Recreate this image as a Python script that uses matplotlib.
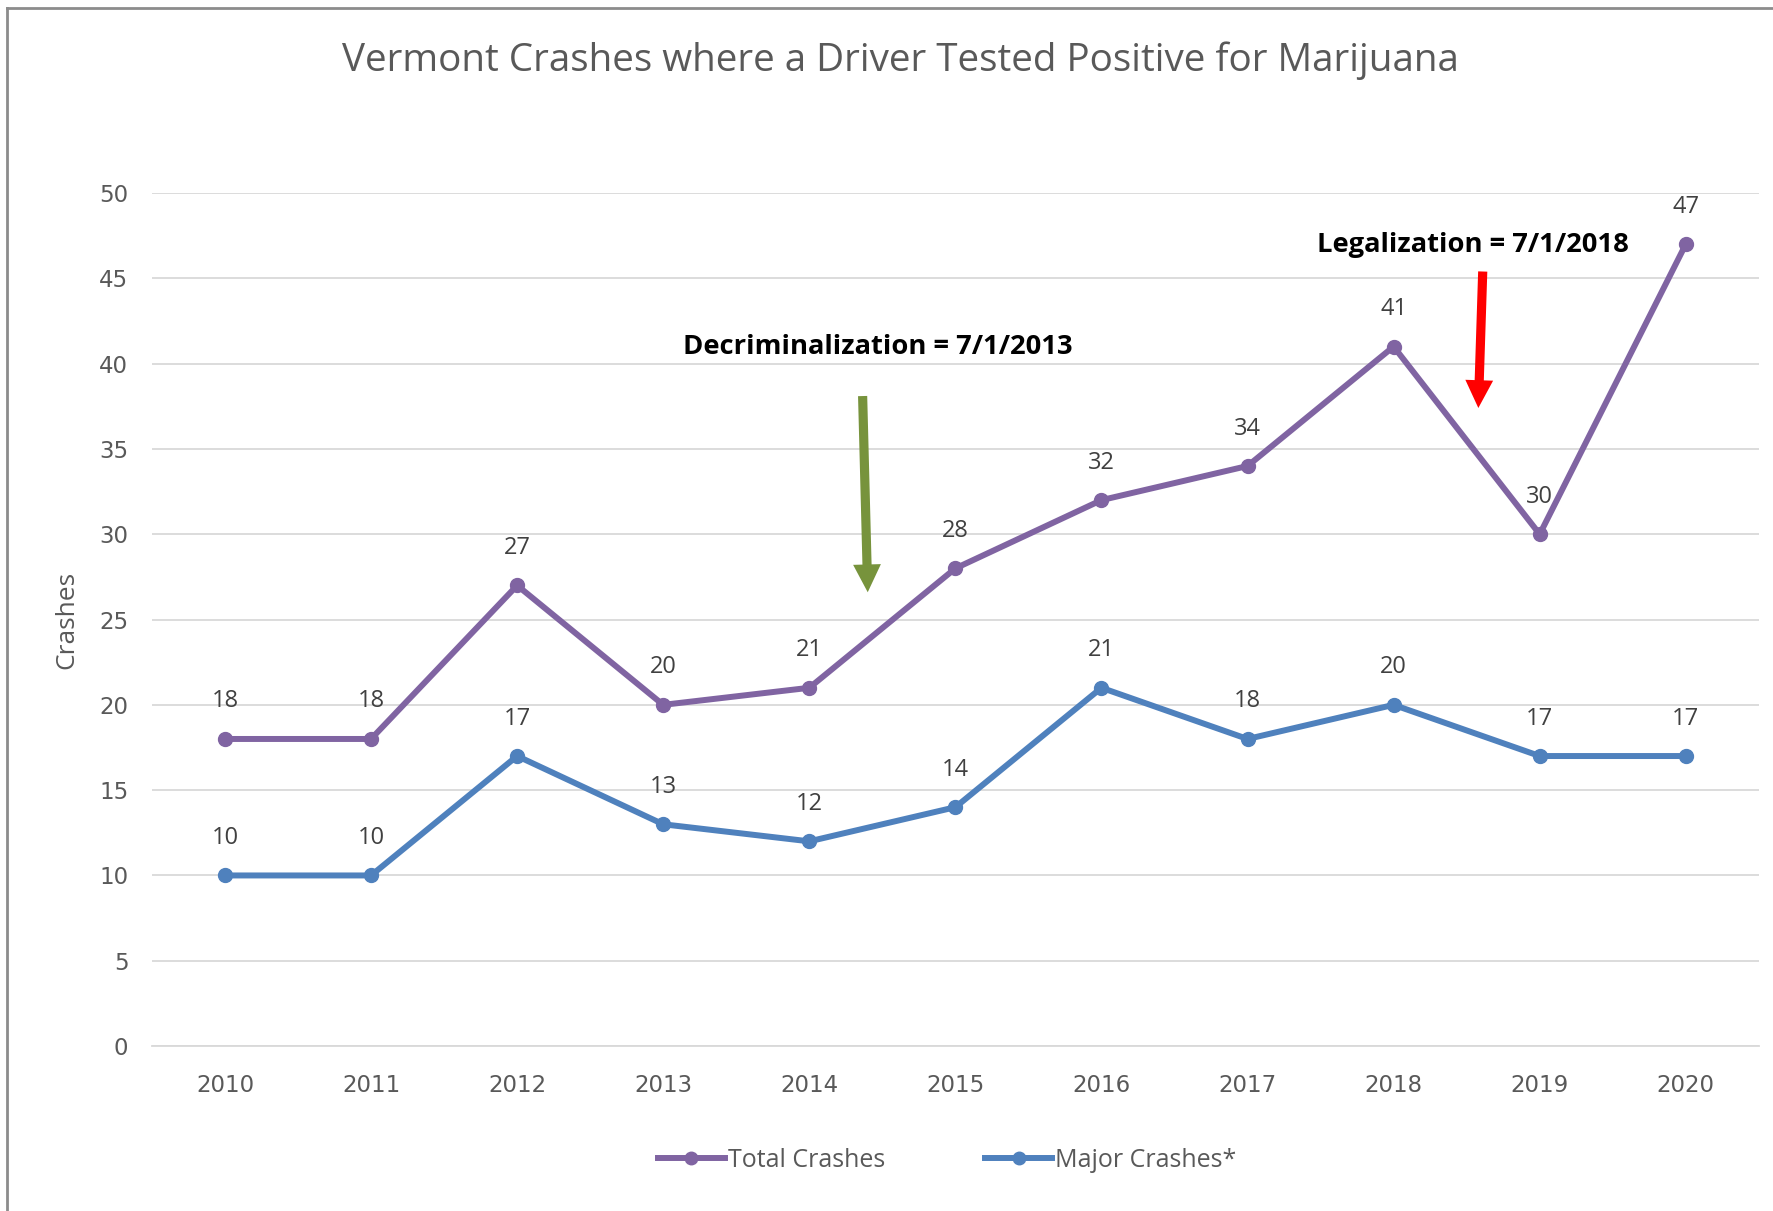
import matplotlib.pyplot as plt
from matplotlib.lines import Line2D

# data
years = ["2010", "2011", "2012", "2013", "2014", "2015", "2016", "2017", "2018", "2019", "2020"]
total_crashes = [18, 18, 27, 20, 21, 28, 32, 34, 41, 30, 47]
major_crashes = [10, 10, 17, 13, 12, 14, 21, 18, 20, 17, 17]
y_ticks = [0, 5, 10, 15, 20, 25, 30, 35, 40, 45, 50]

purple = "#8064A2"
blue = "#4F81BD"
grey_txt = "#595959"

fig = plt.figure(figsize=(17.73, 12.11), dpi=100)
ax = fig.add_axes([0.0857, 0.1362, 0.9063, 0.7044])

x = list(range(len(years)))
ax.plot(x, total_crashes, color=purple, lw=4.3, marker="o", ms=10, solid_capstyle="round")
ax.plot(x, major_crashes, color=blue, lw=4.3, marker="o", ms=10, solid_capstyle="round")

# data labels above the points
for xi, v in zip(x, total_crashes):
    ax.annotate(str(v), (xi, v), xytext=(0, 27), textcoords="offset points",
                ha="center", va="center", fontsize=17, color="#404040", family="Open Sans")
for xi, v in zip(x, major_crashes):
    ax.annotate(str(v), (xi, v), xytext=(0, 27), textcoords="offset points",
                ha="center", va="center", fontsize=17, color="#404040", family="Open Sans")

ax.set_xlim(-0.5, len(years) - 0.5)
ax.set_ylim(0, 50)
ax.set_yticks(y_ticks)
ax.set_xticks(x)
ax.set_xticklabels(years)
ax.grid(axis="y", color="#D9D9D9", lw=1.3)
ax.set_axisbelow(True)
for s in ["top", "right", "left"]:
    ax.spines[s].set_visible(False)
ax.spines["bottom"].set_color("#D9D9D9")
ax.spines["bottom"].set_linewidth(1.3)
ax.tick_params(length=0, labelsize=16.5, labelcolor=grey_txt, pad=20)
ax.tick_params(axis="y", pad=17)

ax.set_ylabel("Crashes", fontsize=19, color=grey_txt, family="Open Sans", labelpad=14)

fig.text(0.508, 0.950, "Vermont Crashes where a Driver Tested Positive for Marijuana",
         ha="center", va="center", fontsize=27.8, color=grey_txt, family="Open Sans")

# annotations with arrows
arrow_style = "simple,head_width=1.0,head_length=1.0,tail_width=0.33"
ax.text(4.47, 41.0, "Decriminalization = 7/1/2013", ha="center", va="center",
        fontsize=19.7, fontweight="bold", color="black", family="Open Sans")
ax.annotate("", xy=(4.40, 26.6), xytext=(4.365, 38.1),
            arrowprops=dict(arrowstyle=arrow_style, mutation_scale=20,
                            color="#77933C", lw=0, shrinkA=0, shrinkB=0))
ax.text(8.54, 46.95, "Legalization = 7/1/2018", ha="center", va="center",
        fontsize=19.7, fontweight="bold", color="black", family="Open Sans")
ax.annotate("", xy=(8.58, 37.4), xytext=(8.61, 45.4),
            arrowprops=dict(arrowstyle=arrow_style, mutation_scale=20,
                            color="red", lw=0, shrinkA=0, shrinkB=0))

# legend
handles = [Line2D([], [], color=purple, lw=4.3, marker="o", ms=9),
           Line2D([], [], color=blue, lw=4.3, marker="o", ms=9)]
leg = fig.legend(handles, ["Total Crashes", "Major Crashes*"], loc="center",
                 bbox_to_anchor=(0.534, 0.042), ncol=2, frameon=False,
                 prop={"family": "Open Sans", "size": 18}, handlelength=2.7,
                 handletextpad=0.1, columnspacing=4.0)
for t in leg.get_texts():
    t.set_color(grey_txt)

# screenshot frame
fig.add_artist(Line2D([0.004, 0.004], [0, 0.993], transform=fig.transFigure, color="#8C8C8C", lw=2))
fig.add_artist(Line2D([0.004, 1], [0.993, 0.993], transform=fig.transFigure, color="#8C8C8C", lw=2))

fig.savefig("out.png", dpi=100)
